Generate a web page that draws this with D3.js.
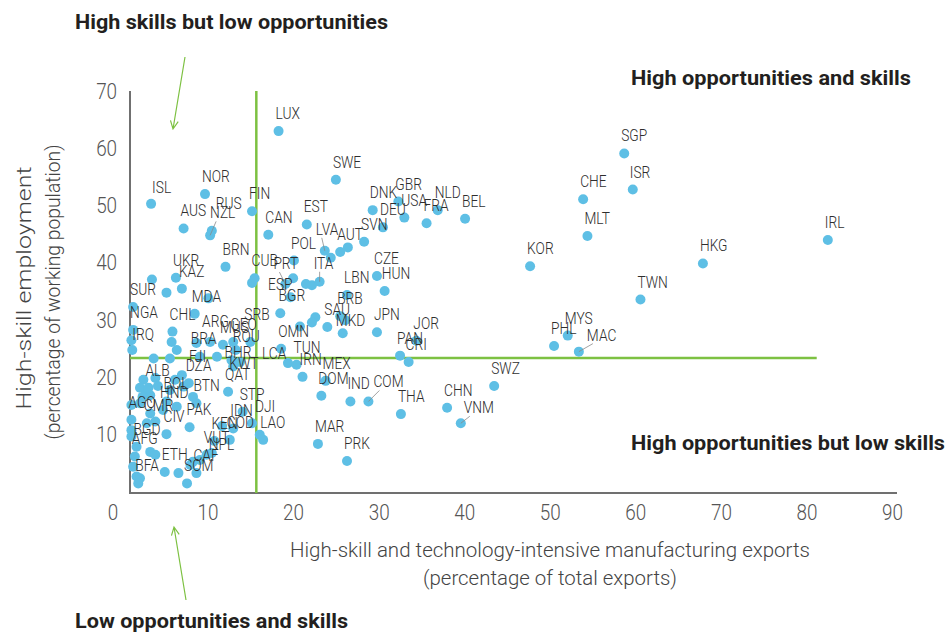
<!DOCTYPE html>
<html>
<head>
<meta charset="utf-8">
<script src="https://cdn.jsdelivr.net/npm/d3@7"></script>
<style>
  body { margin: 0; background: #fff; }
  svg { display: block; font-family: Roboto, "Open Sans", sans-serif; }
</style>
</head>
<body>
<svg id="chart" width="948" height="635"></svg>
<script>
// labelled economies: ISO code, high-skill exports (% of exports), high-skill employment (%)
const countries = ["LUX","SWE","ISL","NOR","FIN","RUS","NZL","AUS","CAN","EST","DNK","GBR","USA","DEU","NLD","FRA","BEL","SVN","LVA","AUT","POL","BRN","CUB","PRT","ESP","BGR","ITA","CZE","HUN","LBN","BRB","SAU","MKD","JPN","JOR","PAN","CRI","OMN","SRB","LCA","TUN","IRN","MEX","DOM","IND","COM","THA","CHN","VNM","SWZ","MAR","PRK","DJI","LAO","STP","SGP","ISR","CHE","MLT","KOR","HKG","TWN","MYS","PHL","MAC","IRL","UKR","KAZ","SUR","MDA","CHL","NGA","IRQ","ARG","MUS","GEO","ROU","BRA","FJI","DZA","BHR","KWT","QAT","ALB","BOL","BTN","HND","AGO","CMR","CIV","PAK","IDN","KEN","COD","BGD","AFG","VUT","NPL","ETH","CAF","BFA","SOM"];
const exportShare = [18.3,25.0,3.4,9.7,15.2,10.5,10.3,7.2,17.1,21.6,29.3,32.3,33.0,30.5,36.9,35.6,40.1,28.3,23.7,25.5,20.1,12.1,15.5,19.1,20.0,19.7,23.1,29.8,30.7,26.3,25.5,24.0,25.8,29.8,34.4,32.5,33.5,18.6,18.5,19.4,20.4,21.1,23.8,23.3,26.7,28.8,32.6,38.0,39.6,43.5,22.9,26.3,15.2,16.5,14.1,58.7,59.7,53.9,54.4,47.7,67.9,60.6,52.1,50.5,53.4,82.5,6.3,7.0,1.3,8.5,5.9,1.3,1.2,10.3,11.8,13.0,13.3,9.1,7.0,7.8,12.8,13.0,12.4,3.1,5.2,8.7,4.8,1.1,2.9,5.2,7.9,13.0,10.8,12.6,1.7,1.5,9.9,10.5,5.0,8.7,1.9,7.6];
const skillShare = [63.0,54.5,50.3,52.0,49.0,45.6,44.8,46.0,44.9,46.7,49.2,50.7,47.9,46.2,49.2,46.9,47.7,43.7,42.1,41.9,40.4,39.3,37.3,36.3,37.3,34.0,36.7,37.7,35.1,34.4,30.7,28.8,27.7,27.9,26.4,23.8,22.7,25.0,31.2,22.5,22.2,20.1,19.4,16.8,15.8,15.8,13.6,14.7,12.0,18.5,8.4,5.4,12.0,9.1,14.0,59.1,52.8,51.1,44.7,39.4,39.9,33.6,27.3,25.5,24.5,44.0,37.4,35.5,32.3,31.1,28.0,28.3,24.8,26.2,25.7,26.2,24.8,23.6,20.4,19.0,23.0,21.9,17.5,18.2,15.8,15.5,14.3,12.6,12.0,10.1,11.3,11.1,8.9,9.1,7.9,6.2,6.5,6.8,3.5,3.3,1.5,1.5];

// unlabelled economies
const otherExport = [26.4,24.4,15.2,21.5,22.2,26.1,22.6,22.2,20.8,16.1,3.5,5.2,10.1,5.8,6.4,15.0,11.1,5.6,3.7,1.1,2.5,3.9,2.8,4.2,2.1,3.3,7.2,8.3,6.4,2.4,2.1,3.3,3.9,11.7,3.3,3.9,1.3,1.7,2.1,6.6,8.0,8.3,9.1,1.1,1.1,5.6,6.2,1.1,8.7,13.8];
const otherSkill = [42.7,40.9,36.5,36.3,36.1,30.0,30.5,29.6,28.9,10.0,37.1,34.8,33.8,26.2,24.8,26.2,23.6,23.3,23.3,26.5,19.6,19.9,17.5,18.5,18.2,16.9,18.4,16.6,14.9,16.6,15.5,13.7,12.3,11.5,7.0,6.5,4.4,2.7,2.4,3.3,4.7,5.3,5.6,9.7,10.8,17.8,19.6,15.2,26.0,22.7];

const xTicks = [0, 10, 20, 30, 40, 50, 60, 70, 80, 90];
const yTicks = [10, 20, 30, 40, 50, 60, 70];
const exportCut = 15.7;
const skillCut = 23.4;
const xTitle = ["High-skill and technology-intensive manufacturing exports", "(percentage of total exports)"];
const yTitle = ["High-skill employment", "(percentage of working population)"];
const quadrants = ["High skills but low opportunities", "High opportunities and skills", "High opportunities but low skills", "Low opportunities and skills"];

// label placement (pixels from dot centre), default above right
const labelShift = {
  RUS: [4, -22], NZL: [0, -17], LVA: [-9, -16], PRT: [-12, -15], ESP: [-25, 12],
  BGR: [-12, 4], ITA: [-6, -13], MKD: [-7, -7], LCA: [-26, -4], SRB: [-36, 7],
  COM: [5, -14], VNM: [3, -10], MAC: [8, -11], DJI: [3, -11], ARG: [-8, -15],
  ROU: [-3, -8], BRA: [-9, -13], FJI: [7, -13], BHR: [-7, -2], KWT: [-4, 2],
  NPL: [-3, -3], IRQ: [0, -10], ISL: [1, -11]
};
const leaders = ["NZL", "LVA", "PRT", "ITA", "COM", "VNM", "MAC"];

const squeeze = 0.86; // the original face is a condensed one
const green = "#7dc142";
const dotColor = "#5ebfe5";

const svg = d3.select("#chart");
const x = d3.scaleLinear().domain([0, 90]).range([122, 892]);
const y = d3.scaleLinear().domain([0, 70]).range([492, 91]);
const plotLeft = 130, plotRight = 897, plotBottom = 493;

// axes
const xAxis = svg.append("g")
  .attr("transform", `translate(0,${plotBottom})`)
  .call(d3.axisBottom(x).tickValues(xTicks).tickSize(0).tickPadding(11));
xAxis.select(".domain").remove();
xAxis.selectAll("text")
  .attr("dx", (d) => (d === 0 ? -11 : 0))
  .attr("transform", `scale(${squeeze},1)`)
  .style("font-size", "22px").style("font-weight", 300).style("fill", "#555")
  .style("font-family", "Roboto, sans-serif");

const yAxis = svg.append("g")
  .attr("transform", `translate(${plotLeft},0)`)
  .call(d3.axisLeft(y).tickValues(yTicks).tickSize(0).tickPadding(15));
yAxis.select(".domain").remove();
yAxis.selectAll("text")
  .attr("transform", `scale(${squeeze},1)`)
  .style("font-size", "22px").style("font-weight", 300).style("fill", "#555")
  .style("font-family", "Roboto, sans-serif");

svg.append("path")
  .attr("d", `M${plotLeft},${y(70)}V${plotBottom}H${plotRight}`)
  .attr("fill", "none").attr("stroke", "#707070").attr("stroke-width", 2);

// quadrant dividers
svg.append("line")
  .attr("x1", x(exportCut)).attr("x2", x(exportCut))
  .attr("y1", y(70)).attr("y2", plotBottom)
  .attr("stroke", green).attr("stroke-width", 2.5);
svg.append("line")
  .attr("x1", plotLeft).attr("x2", x(81.2))
  .attr("y1", y(skillCut)).attr("y2", y(skillCut))
  .attr("stroke", green).attr("stroke-width", 2.5);

// dots
const others = otherExport.map((v, i) => ({ ex: v, sk: otherSkill[i] }));
const named = countries.map((c, i) => ({ code: c, ex: exportShare[i], sk: skillShare[i] }));

svg.append("g").selectAll("circle")
  .data(others.concat(named))
  .join("circle")
  .attr("cx", (d) => x(d.ex))
  .attr("cy", (d) => y(d.sk))
  .attr("r", 5)
  .attr("fill", dotColor);

const shift = (d) => labelShift[d.code] || [-3, -12];

svg.append("g").selectAll("line")
  .data(named.filter((d) => leaders.includes(d.code)))
  .join("line")
  .attr("x1", (d) => x(d.ex) + shift(d)[0] + 6)
  .attr("y1", (d) => y(d.sk) + shift(d)[1] + 3)
  .attr("x2", (d) => x(d.ex))
  .attr("y2", (d) => y(d.sk))
  .attr("stroke", "#8a8a8a").attr("stroke-width", 0.8);

svg.append("g").selectAll("text")
  .data(named)
  .join("text")
  .attr("transform", (d) => `translate(${x(d.ex) + shift(d)[0]},${y(d.sk) + shift(d)[1]}) scale(${squeeze},1)`)
  .style("font-size", "16px").style("font-weight", 300).style("fill", "#2e2e2e")
  .text((d) => d.code);

// axis titles
const titleStyle = (sel) => sel.style("font-size", "20px").style("font-weight", 300).style("fill", "#444")
  .attr("text-anchor", "middle").attr("lengthAdjust", "spacingAndGlyphs");

svg.append("text").attr("x", 550).attr("y", 557).attr("textLength", 520).call(titleStyle).text(xTitle[0]);
svg.append("text").attr("x", 550).attr("y", 585).attr("textLength", 254).call(titleStyle).text(xTitle[1]);
svg.append("text").attr("transform", "translate(31,288) rotate(-90)").attr("textLength", 243).call(titleStyle).text(yTitle[0]);
svg.append("text").attr("transform", "translate(60,292) rotate(-90)").attr("textLength", 295).call(titleStyle).text(yTitle[1]);

// quadrant notes
const notePos = [[75, 29, 313], [631, 85, 280], [631, 450, 314], [75, 628, 273]];
svg.append("g").selectAll("text")
  .data(quadrants)
  .join("text")
  .attr("x", (d, i) => notePos[i][0])
  .attr("y", (d, i) => notePos[i][1])
  .attr("textLength", (d, i) => notePos[i][2])
  .attr("lengthAdjust", "spacingAndGlyphs")
  .style("font-size", "21px").style("font-weight", 700).style("fill", "#231f20")
  .text((d) => d);

// pointers from the notes into the chart
function arrow(x1, y1, x2, y2) {
  const a = Math.atan2(y2 - y1, x2 - x1), len = 9, spread = 0.45;
  const p1 = [x2 - len * Math.cos(a - spread), y2 - len * Math.sin(a - spread)];
  const p2 = [x2 - len * Math.cos(a + spread), y2 - len * Math.sin(a + spread)];
  svg.append("path")
    .attr("d", `M${x1},${y1}L${x2},${y2}M${p1}L${x2},${y2}L${p2}`)
    .attr("fill", "none").attr("stroke", green).attr("stroke-width", 1.2);
}
arrow(185, 57, 173, 129);
arrow(186, 600, 174, 527);
</script>
</body>
</html>
